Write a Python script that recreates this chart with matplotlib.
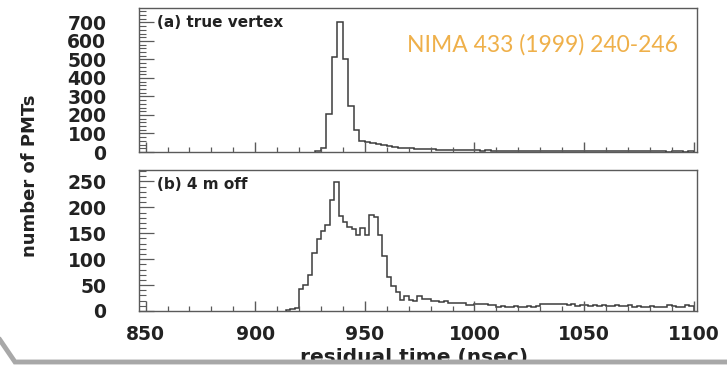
import numpy as np
import matplotlib.pyplot as plt
from matplotlib.ticker import MultipleLocator
from matplotlib.lines import Line2D
from matplotlib.patches import Rectangle

# (a) residual time histogram with the true vertex, 2.5 ns bins
top_start = 927.5
top_width = 2.5
top_counts = [3, 24, 205, 513, 703, 504, 250, 117, 62, 52, 48, 42, 40, 33, 26,
              24, 21, 20, 18, 17, 16, 14, 13, 12, 12, 11, 10, 10, 9, 9, 8, 9,
              8, 7, 8, 7, 6, 7, 6, 6, 5, 6, 5, 6, 5, 5, 4, 5, 4, 5, 4, 4, 5, 4,
              3, 4, 4, 3, 4, 3, 3, 4, 3, 3, 2, 3, 3, 2, 3]

# (b) vertex shifted by 4 m, 2 ns bins
bot_start = 914
bot_width = 2
bot_counts = [2, 3, 6, 42, 51, 70, 112, 138, 155, 165, 215, 248, 183, 172, 163,
              158, 147, 160, 146, 185, 182, 146, 106, 66, 48, 36, 21, 29, 22,
              19, 29, 24, 24, 19, 19, 18, 19, 16, 16, 15, 16, 11, 12, 14, 13,
              14, 12, 12, 8, 9, 8, 8, 9, 8, 8, 9, 8, 9, 14, 13, 14, 13, 13, 14,
              12, 13, 10, 12, 11, 10, 11, 10, 11, 9, 10, 11, 9, 10, 11, 8, 9, 8,
              8, 9, 8, 7, 8, 11, 10, 8, 8, 11, 10]

panel_labels = ["(a) true vertex", "(b) 4 m off"]
x_ticks = [850, 900, 950, 1000, 1050, 1100]

W, H = 727, 368
fig = plt.figure(figsize=(W / 100, H / 100), dpi=100)

ax_top = fig.add_axes([139 / W, 1 - 152 / H, 558 / W, 144 / H])
ax_bot = fig.add_axes([139 / W, 1 - 311 / H, 558 / W, 141 / H])

line_col = "#3c3c3c"
frame_col = "#5a5a5a"


def draw_hist(ax, start, width, counts, ymax, major, minor, label):
    edges = start + width * np.arange(len(counts) + 1)
    ax.stairs(counts, edges, baseline=0, color=line_col, lw=1.1)
    ax.set_xlim(847, 1101.5)
    ax.set_ylim(0, ymax)
    ax.set_xticks(x_ticks)
    ax.xaxis.set_minor_locator(MultipleLocator(10))
    ax.yaxis.set_major_locator(MultipleLocator(major))
    ax.yaxis.set_minor_locator(MultipleLocator(minor))
    ax.tick_params(axis="x", which="major", direction="in", length=7.5,
                   width=1, color=frame_col, pad=10)
    ax.tick_params(axis="x", which="minor", direction="in", length=3.6,
                   width=0.9, color=frame_col)
    ax.tick_params(axis="y", which="major", direction="in", length=10.5,
                   width=0.9, color=frame_col, pad=23.5)
    ax.tick_params(axis="y", which="minor", direction="in", length=5,
                   width=0.8, color=frame_col)
    for s in ax.spines.values():
        s.set_color(frame_col)
        s.set_linewidth(1.0)
    for t in ax.get_yticklabels() + ax.get_xticklabels():
        t.set_fontweight("bold")
        t.set_fontsize(13.5)
        t.set_color("#222222")
    ax.text(0.032, 0.9, label, transform=ax.transAxes, fontsize=11,
            fontweight="bold", color="#222222", va="center", ha="left")


draw_hist(ax_top, top_start, top_width, top_counts, 778, 100, 20,
          panel_labels[0])
draw_hist(ax_bot, bot_start, bot_width, bot_counts, 272, 50, 10,
          panel_labels[1])
ax_top.set_xticklabels([])

fig.text(30 / W, 1 - 176 / H, "number of PMTs", rotation=90, fontsize=13,
         fontweight="bold", color="#222222", ha="center", va="center")
fig.text(414 / W, 1 - 358 / H, "residual time (nsec)", fontsize=14.5,
         fontweight="bold", color="#222222", ha="center", va="center")

fig.text(678 / W, 1 - 52 / H, "NIMA 433 (1999) 240-246", fontsize=16.5,
         family="Lato", color="#efb04a", ha="right", va="baseline")

# grey slide frame line across the bottom, hiding the lower part of the label
fig.add_artist(Rectangle((0, 0), 1, 1 - 362 / H, transform=fig.transFigure,
                         facecolor="white", edgecolor="none", zorder=5))
fig.add_artist(Line2D([0, 15 / W, 726 / W],
                      [1 - 340 / H, 1 - 362 / H, 1 - 362 / H],
                      transform=fig.transFigure, color="#a8a8a8", lw=3.5,
                      solid_joinstyle="miter", zorder=6))

fig.savefig("out.png", dpi=100)
